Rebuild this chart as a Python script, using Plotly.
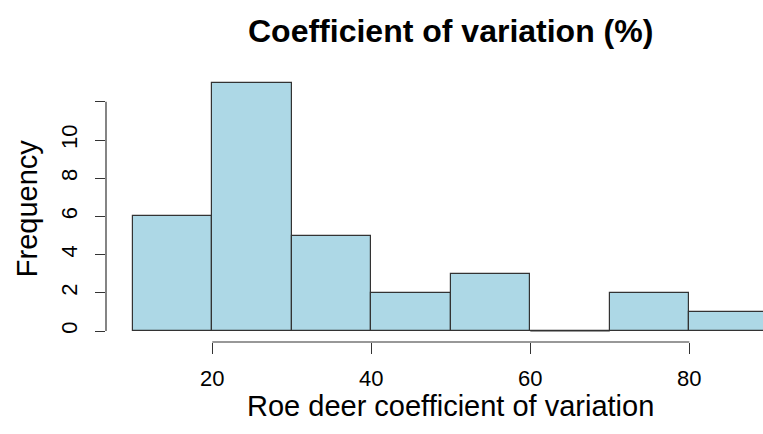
import plotly.graph_objects as go

# Histogram data (bin edges and counts)
bin_left = [10, 20, 30, 40, 50, 60, 70, 80]
bin_width = 10
counts = [6, 13, 5, 2, 3, 0, 2, 1]

x_ticks = [20, 40, 60, 80]
y_ticks = [0, 2, 4, 6, 8, 10, 12]
y_tick_text = ["0", "2", "4", "6", "8", "10", ""]

title_text = "Coefficient of variation (%)"
x_title = "Roe deer coefficient of variation"
y_title = "Frequency"

FONT = "Liberation Sans, Arial, Helvetica, sans-serif"
BAR_FILL = "#ADD8E6"
BAR_LINE = "#333333"

centers = [b + bin_width / 2 for b in bin_left]

fig = go.Figure()
fig.add_trace(go.Bar(
    x=centers, y=counts, width=[bin_width] * len(counts),
    marker=dict(color=BAR_FILL, line=dict(color=BAR_LINE, width=1.2)),
    hoverinfo="skip", showlegend=False,
))

# zero-count bins are drawn as a flat outline on the baseline (as R does)
for b, c in zip(bin_left, counts):
    if c == 0:
        fig.add_trace(go.Scatter(
            x=[b, b + bin_width], y=[0, 0], mode="lines",
            line=dict(color=BAR_LINE, width=1.2),
            hoverinfo="skip", showlegend=False,
        ))

W, H = 763, 434
L, R, T, B = 106, 0, 60, 92

fig.update_layout(
    width=W, height=H,
    margin=dict(l=L, r=R, t=T, b=B),
    plot_bgcolor="white", paper_bgcolor="white",
    font=dict(family=FONT, color="black"),
    bargap=0,
    xaxis=dict(
        range=[6.63, 89.27], showgrid=False, zeroline=False, showline=False,
        tickmode="array", tickvals=x_ticks, ticktext=[str(v) for v in x_ticks],
        ticks="outside", ticklen=11, tickwidth=1.2, tickcolor=BAR_LINE,
        ticklabelstandoff=6,
        tickfont=dict(size=22, family=FONT, color="black"),
    ),
    yaxis=dict(
        range=[-0.576, 14.19], showgrid=False, zeroline=False, showline=False,
        tickmode="array", tickvals=y_ticks, ticktext=y_tick_text,
        ticks="outside", ticklen=10, tickwidth=1.2, tickcolor=BAR_LINE,
        tickangle=-90, ticklabelstandoff=9,
        tickfont=dict(size=22, family=FONT, color="black"),
    ),
    shapes=[
        dict(type="line", xref="x", yref="paper", x0=x_ticks[0], x1=x_ticks[-1],
             y0=0, y1=0, line=dict(color=BAR_LINE, width=1.2)),
        dict(type="line", xref="paper", yref="y", x0=0, x1=0,
             y0=y_ticks[0], y1=y_ticks[-1], line=dict(color=BAR_LINE, width=1.2)),
    ],
    annotations=[
        dict(text="<b>" + title_text + "</b>", xref="x", yref="paper", x=50, y=1.103,
             xanchor="center", yanchor="middle", showarrow=False,
             font=dict(size=32, family=FONT, color="black")),
        dict(text=x_title, xref="x", yref="paper", x=50, y=-0.227,
             xanchor="center", yanchor="middle", showarrow=False,
             font=dict(size=29, family=FONT, color="black")),
        dict(text=y_title, xref="paper", yref="paper", x=-0.120, y=0.475,
             xanchor="center", yanchor="middle", showarrow=False, textangle=-90,
             font=dict(size=29, family=FONT, color="black")),
    ],
)

fig.write_html("out.html")
